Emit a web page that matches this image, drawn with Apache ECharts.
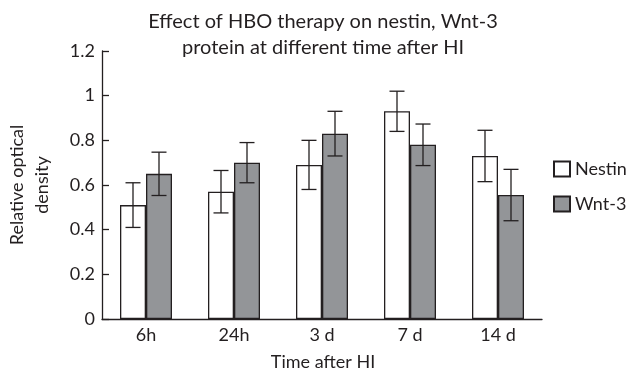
<!DOCTYPE html>
<html>
<head>
<meta charset="utf-8">
<script src="https://cdn.jsdelivr.net/npm/echarts@6/dist/echarts.min.js"></script>
<style>
  html, body { margin: 0; padding: 0; background: #fff; }
  #chart { width: 632px; height: 368px; }
</style>
</head>
<body>
<div id="chart"></div>
<script>
const categories = ['6h', '24h', '3 d', '7 d', '14 d'];
const nestin = [0.51, 0.57, 0.69, 0.93, 0.73];
const nestinErr = [0.10, 0.095, 0.11, 0.09, 0.115];
const wnt3 = [0.65, 0.70, 0.83, 0.78, 0.555];
const wnt3Err = [0.097, 0.09, 0.10, 0.093, 0.115];
const yTicks = [0, 0.2, 0.4, 0.6, 0.8, 1, 1.2];

const ink = '#231f20';
const font = 'Lato';
const barW = 26;

const chart = echarts.init(document.getElementById('chart'));

function errorSeries(values, errs, offset) {
  return {
    type: 'custom',
    silent: true,
    z: 5,
    data: values.map(function (v, i) { return [i, v - errs[i], v + errs[i]]; }),
    renderItem: function (params, api) {
      const lo = api.coord([api.value(0), api.value(1)]);
      const hi = api.coord([api.value(0), api.value(2)]);
      const x = lo[0] + offset;
      const cap = 7.5;
      const style = { stroke: ink, lineWidth: 1.3 };
      return {
        type: 'group',
        children: [
          { type: 'line', shape: { x1: x, y1: lo[1], x2: x, y2: hi[1] }, style: style },
          { type: 'line', shape: { x1: x - cap, y1: hi[1], x2: x + cap, y2: hi[1] }, style: style },
          { type: 'line', shape: { x1: x - cap, y1: lo[1], x2: x + cap, y2: lo[1] }, style: style }
        ]
      };
    }
  };
}

const option = {
  animation: false,
  textStyle: { fontFamily: font, color: ink },
  title: [
    {
      text: 'Effect of HBO therapy on nestin, Wnt-3\nprotein at different time after HI',
      left: 323,
      top: 9,
      textAlign: 'center',
      padding: 0,
      textStyle: { fontFamily: font, fontSize: 20, fontWeight: 'normal', color: ink, lineHeight: 26 }
    },
    {
      text: 'Time after HI',
      left: 323,
      top: 352,
      textAlign: 'center',
      padding: 0,
      textStyle: { fontFamily: font, fontSize: 18, fontWeight: 'normal', color: ink, lineHeight: 20 }
    }
  ],
  graphic: [
    {
      type: 'text',
      x: 30,
      y: 185,
      rotation: Math.PI / 2,
      style: {
        text: 'Relative optical\ndensity',
        fontFamily: font,
        fontSize: 18,
        lineHeight: 25,
        fill: ink,
        align: 'center',
        verticalAlign: 'middle'
      }
    }
  ],
  legend: {
    orient: 'vertical',
    left: 553,
    top: 160,
    padding: 0,
    itemWidth: 16,
    itemHeight: 15,
    itemGap: 17,
    icon: 'rect',
    textStyle: { fontFamily: font, fontSize: 18, color: ink },
    data: ['Nestin', 'Wnt-3']
  },
  grid: { left: 102, right: 90, top: 51, bottom: 49 },
  xAxis: {
    type: 'category',
    data: categories,
    axisLine: { lineStyle: { color: ink, width: 1.3 } },
    axisTick: { inside: true, length: 7, lineStyle: { color: ink, width: 1.3 } },
    axisLabel: { fontFamily: font, fontSize: 18, color: ink, margin: 7 }
  },
  yAxis: {
    type: 'value',
    min: 0,
    max: 1.2,
    interval: 0.2,
    splitLine: { show: false },
    axisLine: { show: true, lineStyle: { color: ink, width: 1.3 } },
    axisTick: { show: true, inside: true, length: 7, lineStyle: { color: ink, width: 1.3 } },
    axisLabel: {
      fontFamily: font, fontSize: 18, color: ink, margin: 7,
      formatter: function (v) {
        const t = yTicks.find(function (k) { return Math.abs(k - v) < 1e-6; });
        return t === undefined ? '' : String(t);
      }
    }
  },
  series: [
    {
      name: 'Nestin',
      type: 'bar',
      data: nestin,
      barWidth: barW,
      barGap: '0%',
      itemStyle: { color: '#ffffff', borderColor: ink, borderWidth: 1.3 }
    },
    {
      name: 'Wnt-3',
      type: 'bar',
      data: wnt3,
      barWidth: barW,
      barGap: '0%',
      itemStyle: { color: '#939598', borderColor: ink, borderWidth: 1.3 }
    },
    errorSeries(nestin, nestinErr, -barW / 2),
    errorSeries(wnt3, wnt3Err, barW / 2)
  ]
};

chart.setOption(option);
</script>
</body>
</html>
